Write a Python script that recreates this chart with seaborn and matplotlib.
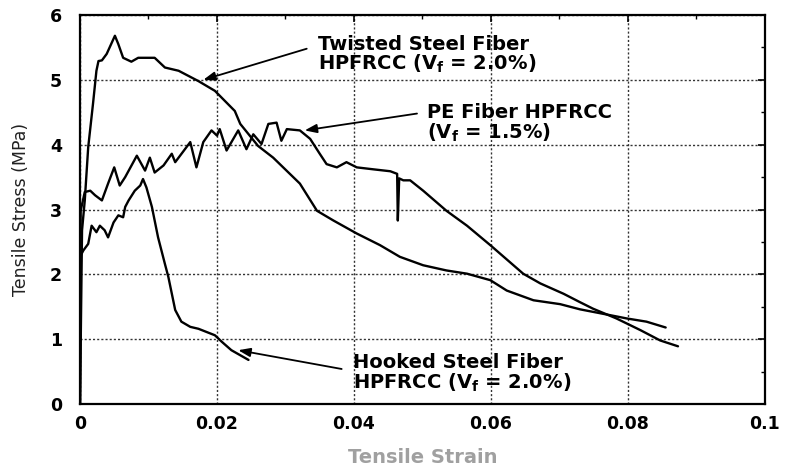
import matplotlib
matplotlib.use("Agg")
import matplotlib.pyplot as plt
import matplotlib.ticker as mticker
import numpy as np
import pandas as pd
import seaborn as sns

sns.set_theme(style="white")
plt.rcParams["font.family"] = ["DejaVu Sans"]

# Twisted steel fiber HPFRCC (Vf = 2.0%)
twisted_strain = [0.0, 0.0003, 0.0007, 0.0012, 0.0019, 0.0024, 0.0027, 0.0032, 0.0039, 0.0051,
                  0.0056, 0.0063, 0.0075, 0.0085, 0.0109, 0.0124, 0.0144, 0.0173, 0.0197, 0.0226,
                  0.0234, 0.0260, 0.0282, 0.0321, 0.0346, 0.0370, 0.0404, 0.0438, 0.0467, 0.0501,
                  0.0535, 0.0565, 0.0599, 0.0623, 0.0662, 0.0701, 0.0730, 0.0774, 0.0798, 0.0827,
                  0.0855]
twisted_stress = [0.0, 2.68, 3.14, 3.96, 4.63, 5.14, 5.29, 5.30, 5.40, 5.68,
                  5.55, 5.34, 5.28, 5.34, 5.34, 5.19, 5.14, 4.98, 4.83, 4.52,
                  4.32, 3.98, 3.80, 3.40, 2.98, 2.83, 2.63, 2.45, 2.27, 2.14,
                  2.06, 2.01, 1.91, 1.75, 1.60, 1.54, 1.46, 1.37, 1.32, 1.27,
                  1.18]

# PE fiber HPFRCC (Vf = 1.5%)
pe_strain = [0.0, 0.0001, 0.0007, 0.0015, 0.0022, 0.0032, 0.0041, 0.0050, 0.0058, 0.0066,
             0.0083, 0.0095, 0.0102, 0.0109, 0.0122, 0.0134, 0.0139, 0.0161, 0.0170, 0.0180,
             0.0192, 0.0200, 0.0204, 0.0214, 0.0231, 0.0243, 0.0253, 0.0265, 0.0275, 0.0287,
             0.0294, 0.0302, 0.0321, 0.0336, 0.0350, 0.0360, 0.0375, 0.0389, 0.0404, 0.0428,
             0.0453, 0.0463, 0.0464, 0.0466, 0.0472, 0.0482, 0.0501, 0.0535, 0.0565, 0.0599,
             0.0647, 0.0672, 0.0706, 0.0730, 0.0749, 0.0783, 0.0818, 0.0847, 0.0873]
pe_stress = [0.0, 2.98, 3.27, 3.29, 3.22, 3.14, 3.40, 3.65, 3.37, 3.50,
             3.83, 3.60, 3.80, 3.57, 3.68, 3.86, 3.73, 4.04, 3.65, 4.04,
             4.22, 4.14, 4.24, 3.91, 4.22, 3.93, 4.16, 4.01, 4.32, 4.34,
             4.06, 4.24, 4.22, 4.09, 3.86, 3.70, 3.65, 3.73, 3.65, 3.62,
             3.59, 3.55, 2.83, 3.48, 3.45, 3.45, 3.29, 2.98, 2.75, 2.45,
             2.01, 1.86, 1.70, 1.57, 1.47, 1.32, 1.14, 0.98, 0.89]

# Hooked steel fiber HPFRCC (Vf = 2.0%)
hooked_strain = [0.0, 0.0001, 0.0005, 0.0012, 0.0017, 0.0024, 0.0029, 0.0036, 0.0041, 0.0049,
                 0.0056, 0.0063, 0.0066, 0.0071, 0.0080, 0.0088, 0.0092, 0.0097, 0.0105, 0.0114,
                 0.0124, 0.0129, 0.0139, 0.0148, 0.0161, 0.0173, 0.0197, 0.0207, 0.0221, 0.0246]
hooked_stress = [0.0, 2.29, 2.37, 2.47, 2.75, 2.65, 2.75, 2.68, 2.57, 2.80,
                 2.91, 2.88, 3.04, 3.14, 3.29, 3.37, 3.47, 3.34, 3.04, 2.57,
                 2.16, 1.96, 1.45, 1.27, 1.19, 1.16, 1.06, 0.96, 0.83, 0.68]

curves = [
    (twisted_strain, twisted_stress),
    (pe_strain, pe_stress),
    (hooked_strain, hooked_stress),
]

# annotation text, arrow head (on curve), arrow tail, text anchor
labels = ["Twisted Steel Fiber\nHPFRCC (V$_\\mathbf{f}$ = 2.0%)",
          "PE Fiber HPFRCC\n(V$_\\mathbf{f}$ = 1.5%)",
          "Hooked Steel Fiber\nHPFRCC (V$_\\mathbf{f}$ = 2.0%)"]
arrow_heads = [(0.0180, 5.00), (0.0328, 4.22), (0.0231, 0.83)]
arrow_tails = [(0.0331, 5.48), (0.0492, 4.48), (0.0382, 0.54)]
text_pos = [(0.0347, 5.38), (0.0506, 4.33), (0.0398, 0.47)]

fig = plt.figure(figsize=(7.88, 4.69), dpi=100)
ax = fig.add_axes([0.1015, 0.1386, 0.8693, 0.8294])

for x, y in curves:
    sns.lineplot(x=x, y=y, sort=False, estimator=None, color="black",
                 linewidth=1.7, ax=ax)

for lab, head, tail, pos in zip(labels, arrow_heads, arrow_tails, text_pos):
    ax.annotate("", xy=head, xytext=tail,
                arrowprops=dict(arrowstyle="-|>,head_width=0.22,head_length=0.6",
                                color="black", lw=1.3, mutation_scale=12,
                                shrinkA=0, shrinkB=0))
    ax.text(pos[0], pos[1], lab, fontsize=14, fontweight="bold", ha="left",
            va="center", linespacing=0.95, color="black")

ax.set_xlim(0, 0.1)
ax.set_ylim(0, 6)
ax.xaxis.set_major_locator(mticker.MultipleLocator(0.02))
ax.xaxis.set_minor_locator(mticker.MultipleLocator(0.01))
ax.yaxis.set_major_locator(mticker.MultipleLocator(1))
ax.yaxis.set_minor_locator(mticker.MultipleLocator(0.5))
ax.xaxis.set_major_formatter(mticker.FuncFormatter(lambda v, p: f"{v:g}"))
ax.yaxis.set_major_formatter(mticker.FuncFormatter(lambda v, p: f"{v:g}"))

ax.tick_params(which="both", direction="in", top=True, right=True, color="black",
               labelcolor="black")
ax.tick_params(which="major", length=5, width=1.2, labelsize=12.5)
ax.tick_params(axis="x", which="major", pad=8)
ax.tick_params(axis="y", which="major", pad=13)
ax.tick_params(which="minor", length=3, width=1.0)
for t in ax.get_xticklabels() + ax.get_yticklabels():
    t.set_fontweight("bold")

ax.grid(True, which="major", linestyle=(0, (1.5, 1.5)), color="#333333", linewidth=1.0)
for s in ax.spines.values():
    s.set_color("black")
    s.set_linewidth(1.6)

ax.set_xlabel("Tensile Strain", fontsize=14, fontweight="bold", color="#a0a0a0", labelpad=11)
ax.set_ylabel("Tensile Stress (MPa)", fontsize=12.5, color="#222222", labelpad=14)

fig.savefig("out.png", dpi=100, facecolor="white")
